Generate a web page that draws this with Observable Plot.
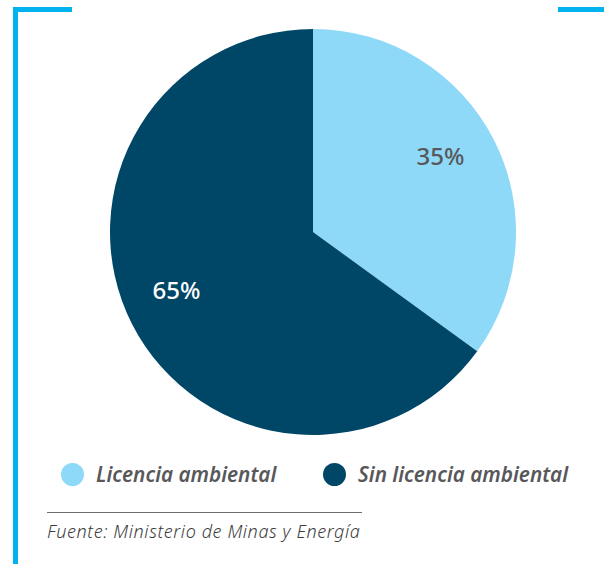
<!DOCTYPE html>
<html>
<head>
<meta charset="utf-8">
<script src="https://cdn.jsdelivr.net/npm/d3@7"></script>
<script src="https://cdn.jsdelivr.net/npm/@observablehq/plot@0.6"></script>
<style>
  html, body { margin: 0; padding: 0; background: #fff; }
  #wrap { position: relative; width: 604px; height: 564px; overflow: hidden; font-family: "Noto Sans", sans-serif; }
  .br { position: absolute; background: #00b3ef; }
  #chart { position: absolute; left: 0; top: 0; }
  #legend { position: absolute; top: 458px; left: 0; width: 604px; height: 34px; }
  .item { position: absolute; top: 0; display: flex; align-items: center; height: 32px; }
  .sw { width: 23px; height: 23px; border-radius: 50%; margin-right: 12px; }
  .lab { font-size: 20.7px; font-weight: 600; font-style: italic; color: #58585a; }
  #rule { position: absolute; left: 47px; top: 512px; width: 315px; height: 0; border-top: 1.3px solid #6d6d6d; }
  #caption { position: absolute; left: 47px; top: 519px; font-size: 18px; letter-spacing: 0.6px; font-style: italic; color: #3c3c3c; font-weight: 300; white-space: nowrap; }
</style>
</head>
<body>
<div id="wrap">
  <div class="br" style="left:13px; top:7px; width:59px; height:5px;"></div>
  <div class="br" style="left:13px; top:7px; width:5px; height:557px;"></div>
  <div class="br" style="left:558px; top:7px; width:46px; height:5px;"></div>
  <div id="chart"></div>
  <div id="legend"></div>
  <div id="rule"></div>
  <div id="caption"></div>
</div>
<script>
const categories = ["Licencia ambiental", "Sin licencia ambiental"];
const values = [35, 65];
const labels = ["35%", "65%"];
const colors = ["#8ed8f8", "#004667"];
const labelColors = ["#58585a", "#ffffff"];
const sourceText = "Fuente: Ministerio de Minas y Energía";

const data = categories.map((c, i) => ({category: c, value: values[i], label: labels[i], color: colors[i], labelColor: labelColors[i]}));
const arcs = d3.pie().sort(null).value(d => d.value)(data);
const labelR = 0.73;
arcs.forEach(a => {
  const mid = (a.startAngle + a.endAngle) / 2;
  a.lx = labelR * Math.sin(mid);
  a.ly = labelR * Math.cos(mid);
});

function pieMark(arcData) {
  return function (index, scales, values, dimensions, context) {
    const cx = scales.x(0), cy = scales.y(0);
    const r = scales.x(1) - scales.x(0);
    const g = d3.create("svg:g").attr("transform", `translate(${cx},${cy})`);
    const arcGen = d3.arc().innerRadius(0).outerRadius(r);
    g.selectAll("path").data(arcData).join("path")
      .attr("d", arcGen)
      .attr("fill", d => d.data.color);
    return g.node();
  };
}

const chart = Plot.plot({
  width: 604,
  height: 440,
  margin: 0,
  x: {type: "linear", domain: [-1, 1], range: [110, 516], axis: null},
  y: {type: "linear", domain: [-1, 1], range: [435, 29], axis: null},
  marks: [
    pieMark(arcs),
    Plot.text(arcs, {
      x: d => d.lx, y: d => d.ly, text: d => d.data.label,
      dx: -5, dy: -8,
      fill: d => d.data.labelColor, fontSize: 24, fontWeight: 500,
      fontFamily: "Noto Sans, sans-serif"
    })
  ]
});
chart.style.fontFamily = "Noto Sans, sans-serif";
document.getElementById("chart").appendChild(chart);

const legendLefts = [61, 323];
const legend = document.getElementById("legend");
data.forEach((d, i) => {
  const it = document.createElement("div");
  it.className = "item";
  it.style.left = legendLefts[i] + "px";
  it.innerHTML = `<div class="sw" style="background:${d.color}"></div><div class="lab">${d.category}</div>`;
  legend.appendChild(it);
});
document.getElementById("caption").textContent = sourceText;
</script>
</body>
</html>
